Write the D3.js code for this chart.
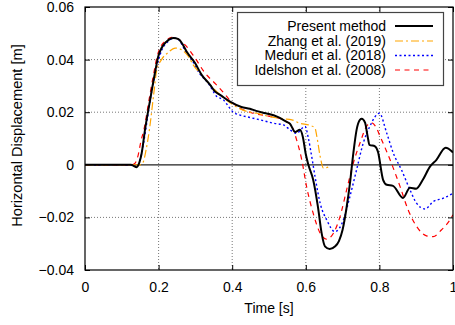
<!DOCTYPE html>
<html><head><meta charset="utf-8">
<script src="https://cdn.jsdelivr.net/npm/d3@7"></script>
<style>body{margin:0;background:#fff}svg{display:block}text{font-family:"Liberation Sans",Arial,sans-serif;}</style>
</head><body>
<script>
const xTicks = [0, 0.2, 0.4, 0.6, 0.8, 1];
const yTicks = [-0.04, -0.02, 0, 0.02, 0.04, 0.06];
const seriesNames = ["Present method", "Zhang et al. (2019)", "Meduri et al. (2018)", "Idelshon et al. (2008)"];

const presentT = [0,0.125,0.132,0.14,0.148,0.154,0.163,0.177,0.19,0.199,0.208,0.222,0.24,0.254,0.263,0.276,0.299,0.317,0.34,0.353,0.367,0.394,0.425,0.448,0.465,0.484,0.5,0.522,0.548,0.557,0.571,0.584,0.592,0.6,0.607,0.62,0.633,0.643,0.652,0.665,0.68,0.69,0.7,0.71,0.72,0.728,0.738,0.747,0.752,0.761,0.768,0.773,0.788,0.796,0.81,0.82,0.837,0.864,0.883,0.9,0.918,0.937,0.955,0.98,1.0];
const presentY = [0,0,-0.0004,-0.0009,0.001,0.0044,0.0133,0.0247,0.0349,0.0412,0.0444,0.0469,0.0482,0.0478,0.0463,0.0431,0.0387,0.0342,0.0304,0.0279,0.0266,0.024,0.022,0.0213,0.0205,0.0198,0.0193,0.0183,0.0163,0.0156,0.0125,0.0133,0.0106,0.004,0,-0.0057,-0.016,-0.026,-0.031,-0.032,-0.031,-0.029,-0.0247,-0.017,-0.007,0.003,0.0133,0.0171,0.0175,0.016,0.0108,0.0076,0.007,0.005,-0.0057,-0.0076,-0.008,-0.0126,-0.0087,-0.0091,-0.0057,-0.0008,0.0019,0.0065,0.0047];

const zhangT = [0,0.15,0.158,0.165,0.175,0.186,0.195,0.208,0.226,0.245,0.263,0.281,0.294,0.317,0.34,0.367,0.394,0.439,0.467,0.494,0.539,0.562,0.584,0.611,0.625,0.63,0.639,0.648,0.666];
const zhangY = [0,0,0.001,0.005,0.0133,0.026,0.036,0.040,0.0427,0.0444,0.0437,0.0412,0.038,0.0342,0.0304,0.0266,0.0236,0.0203,0.0196,0.0186,0.0175,0.0171,0.0158,0.015,0.014,0.0108,0.0032,-0.0013,-0.0006];

const meduriT = [0,0.13,0.14,0.15,0.16,0.17,0.18,0.19,0.2,0.21,0.225,0.24,0.255,0.27,0.29,0.31,0.335,0.358,0.376,0.39,0.403,0.448,0.476,0.512,0.539,0.557,0.575,0.598,0.607,0.616,0.625,0.639,0.657,0.679,0.702,0.72,0.738,0.756,0.774,0.8,0.82,0.838,0.86,0.883,0.901,0.924,0.946,0.974,1.0];
const meduriY = [0,0,-0.0005,0.002,0.009,0.018,0.027,0.034,0.04,0.044,0.0468,0.0482,0.0475,0.044,0.040,0.035,0.031,0.026,0.0247,0.0222,0.02,0.018,0.0171,0.0158,0.0152,0.0133,0.012,0.0146,0.0101,0.0032,-0.0044,-0.0146,-0.021,-0.0254,-0.021,-0.012,-0.0019,0.0082,0.0146,0.0196,0.012,0.0044,-0.0019,-0.0095,-0.0146,-0.0168,-0.014,-0.0127,-0.0108];

const idelT = [0,0.125,0.135,0.145,0.152,0.16,0.174,0.187,0.196,0.206,0.22,0.236,0.25,0.272,0.299,0.326,0.353,0.376,0.394,0.421,0.457,0.503,0.539,0.562,0.575,0.589,0.602,0.62,0.639,0.657,0.675,0.693,0.711,0.729,0.747,0.765,0.778,0.79,0.802,0.829,0.856,0.878,0.901,0.928,0.946,0.969,0.992,1.0];
const idelY = [0,0,0.0005,0.004,0.009,0.0133,0.0247,0.0349,0.0412,0.045,0.0472,0.0485,0.048,0.0456,0.0406,0.0349,0.031,0.0275,0.0245,0.0216,0.0196,0.0184,0.0171,0.0146,0.0095,0.0019,-0.0082,-0.0184,-0.026,-0.0283,-0.026,-0.0197,-0.0095,0.0006,0.0082,0.0146,0.016,0.0145,0.0108,0.0019,-0.0082,-0.0171,-0.0234,-0.027,-0.0273,-0.0247,-0.0209,-0.019];

const W = 455, H = 325;
const m = {left: 85, right: 453, top: 7, bottom: 270};
const x = d3.scaleLinear().domain([0, 1]).range([m.left, m.right]);
const y = d3.scaleLinear().domain([-0.04, 0.06]).range([m.bottom, m.top]);

const svg = d3.select("body").append("svg").attr("width", W).attr("height", H);

svg.append("defs").append("clipPath").attr("id", "clip")
  .append("rect").attr("x", m.left).attr("y", m.top)
  .attr("width", m.right - m.left).attr("height", m.bottom - m.top);

// grid
const g = svg.append("g");
g.selectAll(".vg").data(xTicks.filter(d => d > 0 && d < 1)).enter().append("line")
  .attr("x1", d => x(d)).attr("x2", d => x(d)).attr("y1", m.top).attr("y2", m.bottom)
  .attr("stroke", "#777").attr("stroke-width", 1).attr("stroke-dasharray", "1,2");
g.selectAll(".hg").data(yTicks.filter(d => d !== 0 && d > -0.04 && d < 0.06)).enter().append("line")
  .attr("x1", m.left).attr("x2", m.right).attr("y1", d => y(d)).attr("y2", d => y(d))
  .attr("stroke", "#777").attr("stroke-width", 1).attr("stroke-dasharray", "1,2");
// zero axis
g.append("line").attr("x1", m.left).attr("x2", m.right).attr("y1", y(0)).attr("y2", y(0))
  .attr("stroke", "#222").attr("stroke-width", 1.2);

// axes with inner ticks
const axB = d3.axisBottom(x).tickValues(xTicks).tickFormat(d3.format("~g")).tickSizeInner(-5).tickSizeOuter(0).tickPadding(12);
const axT = d3.axisTop(x).tickValues(xTicks).tickFormat("").tickSizeInner(-5).tickSizeOuter(0);
const axL = d3.axisLeft(y).tickValues(yTicks).tickFormat(d => d === 0 ? "0" : d3.format(".2f")(d).replace("-", "\u2212")).tickSizeInner(-5).tickSizeOuter(0).tickPadding(11);
const axR = d3.axisRight(y).tickValues(yTicks).tickFormat("").tickSizeInner(-5).tickSizeOuter(0);

function styleAxis(sel) {
  sel.select(".domain").remove();
  sel.selectAll("line").attr("stroke", "#000");
  sel.selectAll("text").attr("font-size", 14).attr("fill", "#000").attr("font-family", '"Liberation Sans",Arial,sans-serif');
}
svg.append("g").attr("transform", `translate(0,${m.bottom})`).call(axB).call(styleAxis);
svg.append("g").attr("transform", `translate(0,${m.top})`).call(axT).call(styleAxis);
svg.append("g").attr("transform", `translate(${m.left},0)`).call(axL).call(styleAxis);
svg.append("g").attr("transform", `translate(${m.right},0)`).call(axR).call(styleAxis);

// series
const series = [
  {name: seriesNames[0], t: presentT, v: presentY, color: "#000", width: 2, dash: null},
  {name: seriesNames[1], t: zhangT, v: zhangY, color: "#FFA500", width: 1.2, dash: "8,3,2,3"},
  {name: seriesNames[2], t: meduriT, v: meduriY, color: "#0000FF", width: 1.4, dash: "2,2.5"},
  {name: seriesNames[3], t: idelT, v: idelY, color: "#FF0000", width: 1.2, dash: "5,4.5"}
];
const line = d3.line().x(d => x(d[0])).y(d => y(d[1])).curve(d3.curveMonotoneX);
const drawOrder = [3, 2, 1, 0];
const pg = svg.append("g").attr("clip-path", "url(#clip)");
drawOrder.forEach(i => {
  const s = series[i];
  pg.append("path").datum(s.t.map((t, k) => [t, s.v[k]]))
    .attr("d", line).attr("fill", "none").attr("stroke", s.color)
    .attr("stroke-width", s.width).attr("stroke-dasharray", s.dash)
    .attr("stroke-linejoin", "round");
});

// frame
svg.append("rect").attr("x", m.left).attr("y", m.top)
  .attr("width", m.right - m.left).attr("height", m.bottom - m.top)
  .attr("fill", "none").attr("stroke", "#000").attr("stroke-width", 1.2);

// legend
const lg = svg.append("g");
lg.append("rect").attr("x", 237.5).attr("y", 12.5).attr("width", 206).attr("height", 73)
  .attr("fill", "#fff").attr("stroke", "#444").attr("stroke-width", 1.2);
const rowY = [26, 41, 55.5, 70];
series.forEach((s, i) => {
  lg.append("text").attr("x", 386).attr("y", rowY[i]).attr("dy", "0.35em")
    .attr("text-anchor", "end").attr("font-size", 14).text(s.name);
  lg.append("line").attr("x1", 395).attr("x2", 433).attr("y1", rowY[i]).attr("y2", rowY[i])
    .attr("stroke", s.color).attr("stroke-width", s.width).attr("stroke-dasharray", s.dash);
});

// axis labels
svg.append("text").attr("x", (m.left + m.right) / 2).attr("y", 313).attr("text-anchor", "middle")
  .attr("font-size", 14).text("Time [s]");
svg.append("text").attr("transform", `translate(22,${(m.top + m.bottom) / 2 - 3}) rotate(-90)`)
  .attr("text-anchor", "middle").attr("font-size", 14.6).text("Horizontal Displacement [m]");
</script>
</body></html>
